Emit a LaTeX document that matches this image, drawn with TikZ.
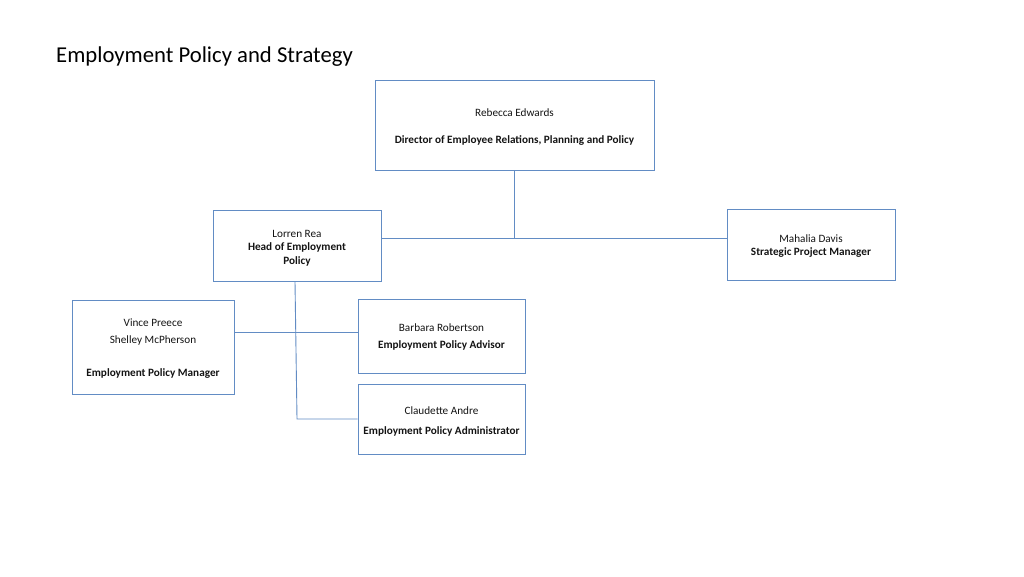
\documentclass[tikz,border=0pt]{standalone}
\usepackage{fontspec}
\setmainfont{Carlito}
\definecolor{boxblue}{RGB}{98,140,196}
\definecolor{txt}{RGB}{20,20,20}
\begin{document}
\begin{tikzpicture}[x=1pt,y=-1pt,
  box/.style={draw=boxblue,line width=0.9pt,inner sep=0pt},
  boxtext/.style={inner sep=0pt,align=center,text=txt,font=\fontsize{11.2}{13.5}\selectfont},
  link/.style={draw=boxblue,line width=0.9pt}]
\useasboundingbox[fill=white] (0,0) rectangle (1024,576);
\node[anchor=west,inner sep=0pt,font=\fontsize{22.7}{26}\selectfont,text=black] (title) at (56,57) {Employment Policy and Strategy};
\node[box,minimum width=279pt,minimum height=90pt] (reb) at (514.5,125) {};
\node[box,minimum width=168pt,minimum height=71pt] (lor) at (297,245.5) {};
\node[box,minimum width=168pt,minimum height=71pt] (mah) at (811,244.5) {};
\node[box,minimum width=162pt,minimum height=94pt] (vin) at (153,347) {};
\node[box,minimum width=167pt,minimum height=74pt] (bar) at (441.5,336) {};
\node[box,minimum width=167pt,minimum height=70pt] (cla) at (441.5,419) {};
\node[boxtext] (reb-t) at ([yshift=-2pt]reb.center) {Rebecca Edwards\\[13.5pt]\textbf{Director of Employee Relations, Planning and Policy}};
\node[boxtext] (lor-t) at ([yshift=-2.5pt]lor.center) {Lorren Rea\\\textbf{Head of Employment}\\\textbf{Policy}};
\node[boxtext] (mah-t) at ([yshift=-1.5pt]mah.center) {Mahalia Davis\\\textbf{Strategic Project Manager}};
\node[boxtext] (vin-t) at ([yshift=-2pt]vin.center) {Vince Preece\\[3.5pt]Shelley McPherson\\[19.5pt]\textbf{Employment Policy Manager}};
\node[boxtext] (bar-t) at ([yshift=-1pt]bar.center) {Barbara Robertson\\[3.5pt]\textbf{Employment Policy Advisor}};
\node[boxtext] (cla-t) at ([yshift=-2pt]cla.center) {Claudette Andre\\[6.5pt]\textbf{Employment Policy Administrator}};
\coordinate (j1) at (514.5,238);
\coordinate (j2) at (297,419);
\coordinate (j3) at (0,332);
\draw[link] (reb.south) -- (j1);
\draw[link] (j1 -| lor.east) -- (j1 -| mah.west);
\draw[link] ([xshift=-2pt]lor.south) -- (j2) -- (j2 -| cla.west);
\draw[link] (vin.east |- j3) -- (bar.west |- j3);
\end{tikzpicture}
\end{document}
